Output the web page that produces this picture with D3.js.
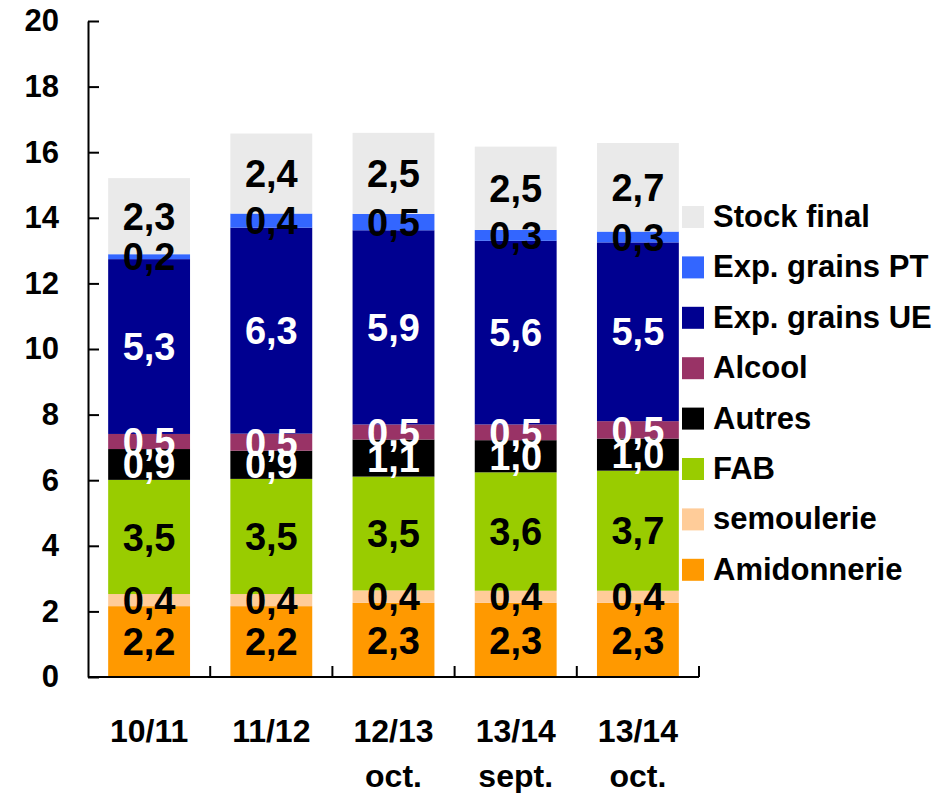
<!DOCTYPE html>
<html>
<head>
<meta charset="utf-8">
<script src="https://cdn.jsdelivr.net/npm/d3@7"></script>
<style>
  body { margin: 0; background: #fff; }
  svg { display: block; font-family: "Liberation Sans", Arial, sans-serif; font-weight: bold; }
</style>
</head>
<body>
<svg id="chart" width="951" height="793"></svg>
<script>
// campaigns (two text lines each)
var campaigns = [['10/11'], ['11/12'], ['12/13', 'oct.'], ['13/14', 'sept.'], ['13/14', 'oct.']];

// stacking order, bottom to top
var seriesNames = ['Amidonnerie', 'semoulerie', 'FAB', 'Autres', 'Alcool', 'Exp. grains UE', 'Exp. grains PT', 'Stock final'];
var seriesColors = ['#ff9900', '#ffcc99', '#99cc00', '#000000', '#993366', '#000090', '#3366ff', '#eaeaea'];
var labelColors = ['#000', '#000', '#000', '#fff', '#fff', '#fff', '#000', '#000'];

// values per series (Mt), one per campaign
var amidonnerie = [2.16, 2.16, 2.26, 2.26, 2.26];
var semoulerie  = [0.37, 0.37, 0.38, 0.37, 0.37];
var fab         = [3.48, 3.51, 3.47, 3.61, 3.66];
var autres      = [0.94, 0.86, 1.13, 0.98, 0.98];
var alcool      = [0.46, 0.52, 0.46, 0.48, 0.53];
var expUE       = [5.33, 6.28, 5.92, 5.60, 5.45];
var expPT       = [0.15, 0.43, 0.50, 0.33, 0.33];
var stockFinal  = [2.32, 2.44, 2.47, 2.54, 2.70];

var yTicks = [0, 2, 4, 6, 8, 10, 12, 14, 16, 18, 20];

var allSeries = [amidonnerie, semoulerie, fab, autres, alcool, expUE, expPT, stockFinal];

(function () {
  var table = campaigns.map(function (c, i) {
    var row = { key: c.join(' ') };
    seriesNames.forEach(function (s, j) { row[s] = allSeries[j][i]; });
    return row;
  });

  var svg = d3.select('#chart');

  var plotLeft = 88, plotRight = 699, plotTop = 21, plotBottom = 677;

  var x = d3.scaleBand()
    .domain(table.map(function (d) { return d.key; }))
    .range([plotLeft, plotRight])
    .paddingInner(0.33)
    .paddingOuter(0.165);

  var y = d3.scaleLinear().domain([0, 20]).range([plotBottom, plotTop]);

  var stacked = d3.stack().keys(seriesNames)(table);

  var fmt = function (v) { return d3.format('.1f')(v).replace('.', ','); };

  // bars
  var layers = svg.append('g').selectAll('g')
    .data(stacked)
    .join('g')
    .attr('fill', function (d, i) { return seriesColors[i]; });

  layers.selectAll('rect')
    .data(function (d) { return d; })
    .join('rect')
    .attr('x', function (d) { return x(d.data.key); })
    .attr('y', function (d) { return y(d[1]); })
    .attr('width', x.bandwidth())
    .attr('height', function (d) { return y(d[0]) - y(d[1]); });

  // segment labels
  var labelLayers = svg.append('g').selectAll('g')
    .data(stacked)
    .join('g')
    .attr('fill', function (d, i) { return labelColors[i]; })
    .attr('font-size', 38)
    .attr('text-anchor', 'middle');

  labelLayers.selectAll('text')
    .data(function (d) { return d; })
    .join('text')
    .attr('x', function (d) { return x(d.data.key) + x.bandwidth() / 2; })
    .attr('y', function (d) { return (y(d[0]) + y(d[1])) / 2; })
    .attr('dy', '0.36em')
    .text(function (d) { return fmt(d[1] - d[0]); });

  // y axis
  var yAxis = svg.append('g')
    .attr('transform', 'translate(' + plotLeft + ',0)')
    .call(d3.axisLeft(y).tickValues(yTicks).tickSize(-11).tickPadding(29).tickSizeOuter(0));

  yAxis.select('.domain').attr('stroke', '#000').attr('stroke-width', 2);
  yAxis.selectAll('.tick line').attr('stroke', '#000').attr('stroke-width', 2);
  yAxis.selectAll('.tick text')
    .attr('font-size', 31)
    .attr('font-family', '"Liberation Sans", Arial, sans-serif')
    .attr('font-weight', 'bold')
    .attr('fill', '#000');

  // x axis line and category boundary ticks
  var gap = x.step() * x.paddingInner() / 2;
  var xAxis = svg.append('g');

  xAxis.append('line')
    .attr('x1', plotLeft)
    .attr('x2', plotRight)
    .attr('y1', plotBottom)
    .attr('y2', plotBottom)
    .attr('stroke', '#000')
    .attr('stroke-width', 2);

  xAxis.selectAll('.xtick')
    .data(table)
    .join('line')
    .attr('class', 'xtick')
    .attr('x1', function (d) { return x(d.key) + x.bandwidth() + gap; })
    .attr('x2', function (d) { return x(d.key) + x.bandwidth() + gap; })
    .attr('y1', plotBottom)
    .attr('y2', plotBottom - 11)
    .attr('stroke', '#000')
    .attr('stroke-width', 2);

  var xLabels = xAxis.selectAll('.xlabel')
    .data(campaigns)
    .join('text')
    .attr('class', 'xlabel')
    .attr('text-anchor', 'middle')
    .attr('font-size', 32)
    .attr('fill', '#000');

  xLabels.selectAll('tspan')
    .data(function (d, i) { return d.map(function (t) { return { t: t, key: table[i].key }; }); })
    .join('tspan')
    .attr('x', function (d) { return x(d.key) + x.bandwidth() / 2; })
    .attr('y', function (d, i) { return 742 + i * 45; })
    .text(function (d) { return d.t; });

  // legend, top to bottom reversed from stack
  var legendItems = seriesNames.map(function (s, i) { return { name: s, color: seriesColors[i] }; }).reverse();

  var legend = svg.append('g')
    .attr('transform', 'translate(682,206)');

  var item = legend.selectAll('g')
    .data(legendItems)
    .join('g')
    .attr('transform', function (d, i) { return 'translate(0,' + (i * 50.4) + ')'; });

  item.append('rect')
    .attr('width', 22)
    .attr('height', 22)
    .attr('fill', function (d) { return d.color; });

  item.append('text')
    .attr('x', 31)
    .attr('y', 21)
    .attr('font-size', 31)
    .attr('fill', '#000')
    .text(function (d) { return d.name; });
})();
</script>
</body>
</html>
